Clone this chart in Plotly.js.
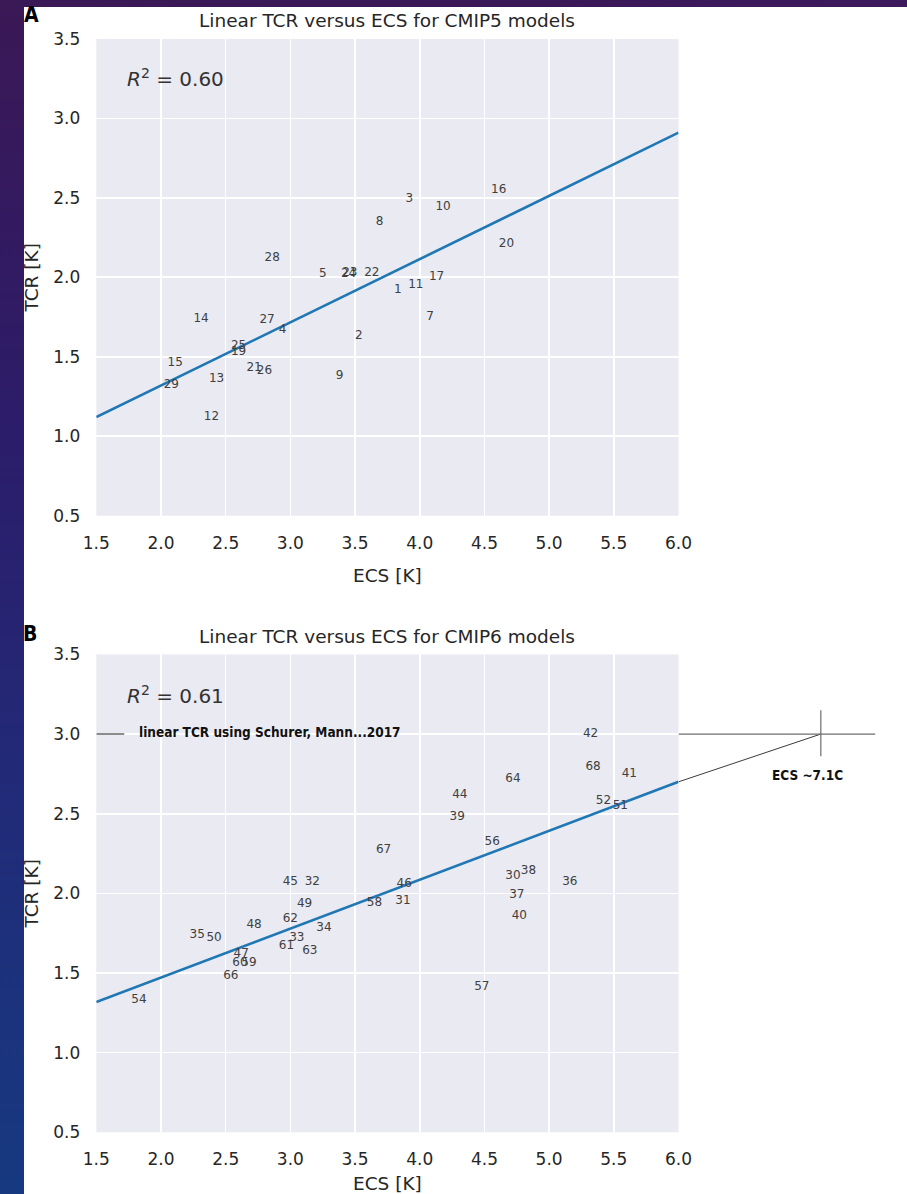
<!DOCTYPE html>
<html>
<head>
<meta charset="utf-8">
<script src="https://cdn.plot.ly/plotly-3.0.1.min.js"></script>
<style>
  html, body { margin: 0; padding: 0; width: 907px; height: 1194px; overflow: hidden; background: #ffffff; }
  #edge-left { position: absolute; left: 0; top: 0; width: 24px; height: 1194px;
    background: linear-gradient(to bottom, #3b1856 0%, #2c1c69 35%, #222a78 65%, #16397f 100%); }
  #edge-top { position: absolute; left: 0; top: 0; width: 907px; height: 7px;
    background: linear-gradient(to right, #3b1856 0%, #3a1858 60%, #3c1a5c 100%); }
  #chart { position: absolute; left: 0; top: 0; width: 907px; height: 1194px; }
</style>
</head>
<body>
<div id="edge-left"></div>
<div id="edge-top"></div>
<div id="chart"></div>
<script>
// ---- CMIP5 models: ECS and TCR per model number ----
const cmip5Ids = ['1','2','3','4','5','7','8','9','10','11','12','13','14','15','16','17','19','20','21','22','23','24','25','26','27','28','29'];
const cmip5Ecs = [3.83, 3.53, 3.92, 2.94, 3.25, 4.08, 3.69, 3.38, 4.18, 3.97, 2.39, 2.43, 2.31, 2.11, 4.61, 4.13, 2.60, 4.67, 2.72, 3.63, 3.46, 3.45, 2.60, 2.80, 2.82, 2.86, 2.08];
const cmip5Tcr = [1.92, 1.63, 2.49, 1.67, 2.02, 1.75, 2.35, 1.38, 2.44, 1.95, 1.12, 1.36, 1.74, 1.46, 2.55, 2.00, 1.53, 2.21, 1.43, 2.03, 2.03, 2.02, 1.57, 1.41, 1.73, 2.12, 1.32];
const cmip5FitEcs = [1.5, 6.0];
const cmip5FitTcr = [1.12, 2.91];
const cmip5R2 = '0.60';

// ---- CMIP6 models: ECS and TCR per model number ----
const cmip6Ids = ['30','31','32','33','34','35','36','37','38','39','40','41','42','44','45','46','47','48','49','50','51','52','54','56','57','58','59','60','61','62','63','64','66','67','68'];
const cmip6Ecs = [4.72, 3.87, 3.17, 3.05, 3.26, 2.28, 5.16, 4.75, 4.84, 4.29, 4.77, 5.62, 5.32, 4.31, 3.00, 3.88, 2.62, 2.72, 3.11, 2.41, 5.55, 5.42, 1.83, 4.56, 4.48, 3.65, 2.68, 2.61, 2.97, 3.00, 3.15, 4.72, 2.54, 3.72, 5.34];
const cmip6Tcr = [2.11, 1.95, 2.07, 1.72, 1.78, 1.74, 2.07, 1.99, 2.14, 2.48, 1.86, 2.75, 3.00, 2.62, 2.07, 2.06, 1.62, 1.80, 1.93, 1.72, 2.55, 2.58, 1.33, 2.32, 1.41, 1.94, 1.56, 1.56, 1.67, 1.84, 1.64, 2.72, 1.48, 2.27, 2.79];
const cmip6FitEcs = [1.5, 6.0];
const cmip6FitTcr = [1.318, 2.70];
const cmip6R2 = '0.61';

// ---- Reference level and the ECS it implies on the CMIP6 fit ----
const schurerTcr = 3.0;
const schurerKeyEcs = [1.5, 1.716];
const ecsEstimate = 7.1;
const crossEcs = [6.0, 7.52];
const crossTcr = [2.86, 3.15];
const schurerLabel = 'linear TCR using Schurer, Mann...2017';
const ecsLabel = 'ECS ~7.1C';

const tickVals = [1.5, 2.0, 2.5, 3.0, 3.5, 4.0, 4.5, 5.0, 5.5, 6.0];
const yTickVals = [0.5, 1.0, 1.5, 2.0, 2.5, 3.0, 3.5];

const W = 907, H = 1194;
const px = v => v / W;
const py = v => 1 - v / H;

const sans = 'DejaVu Sans, Verdana, sans-serif';
const narrowBold = 'Liberation Sans Narrow, Arial Narrow, DejaVu Sans Condensed, sans-serif';
const inkDark = '#262626';
const labelInk = '#404040';
const lineBlue = '#1f77b4';

const xDomain = [px(96.3), px(678.5)];
const yDomainA = [py(515.7), py(38.9)];
const yDomainB = [py(1132.3), py(654.4)];

function xAxis(anchor, standoff) {
  return {
    domain: xDomain, anchor: anchor, range: [1.5, 6.0],
    tickmode: 'array', tickvals: tickVals, ticktext: tickVals.map(v => v.toFixed(1)),
    showgrid: true, gridcolor: '#ffffff', gridwidth: 1.6,
    zeroline: false, showline: false, ticks: '',
    ticklabelstandoff: 15,
    tickfont: {family: sans, size: 17, color: inkDark},
    title: {text: 'ECS [K]', font: {family: sans, size: 18.5, color: inkDark}, standoff: standoff},
    fixedrange: true
  };
}
function yAxis(anchor, domain) {
  return {
    domain: domain, anchor: anchor, range: [0.5, 3.5],
    tickmode: 'array', tickvals: yTickVals, ticktext: yTickVals.map(v => v.toFixed(1)),
    showgrid: true, gridcolor: '#ffffff', gridwidth: 1.6,
    zeroline: false, showline: false, ticks: '',
    ticklabelstandoff: 15,
    tickfont: {family: sans, size: 17, color: inkDark},
    title: {text: 'TCR [K]', font: {family: sans, size: 18.5, color: inkDark}, standoff: 9},
    fixedrange: true
  };
}

const labelFont = {family: sans, size: 12, color: labelInk};

const traces = [
  // panel A
  {x: cmip5FitEcs, y: cmip5FitTcr, xaxis: 'x', yaxis: 'y', mode: 'lines',
   line: {color: lineBlue, width: 2.6}, hoverinfo: 'skip'},
  {x: cmip5Ecs, y: cmip5Tcr, text: cmip5Ids, xaxis: 'x', yaxis: 'y', mode: 'text',
   textposition: 'middle center', textfont: labelFont, hoverinfo: 'skip'},
  // panel B
  {x: schurerKeyEcs, y: [schurerTcr, schurerTcr], xaxis: 'x2', yaxis: 'y2', mode: 'lines',
   line: {color: '#8c8c8c', width: 2}, hoverinfo: 'skip'},
  {x: cmip6FitEcs, y: cmip6FitTcr, xaxis: 'x2', yaxis: 'y2', mode: 'lines',
   line: {color: lineBlue, width: 2.6}, hoverinfo: 'skip'},
  {x: cmip6Ecs, y: cmip6Tcr, text: cmip6Ids, xaxis: 'x2', yaxis: 'y2', mode: 'text',
   textposition: 'middle center', textfont: labelFont, hoverinfo: 'skip'},
  // fit extended past the axis to the reference TCR level
  {x: [cmip6FitEcs[1], ecsEstimate], y: [cmip6FitTcr[1], schurerTcr], xaxis: 'x3', yaxis: 'y2', mode: 'lines',
   line: {color: '#3a3a3a', width: 1}, hoverinfo: 'skip'},
  {x: crossEcs, y: [schurerTcr, schurerTcr], xaxis: 'x3', yaxis: 'y2', mode: 'lines',
   line: {color: '#6e6e6e', width: 1.2}, hoverinfo: 'skip'},
  {x: [ecsEstimate, ecsEstimate], y: crossTcr, xaxis: 'x3', yaxis: 'y2', mode: 'lines',
   line: {color: '#6e6e6e', width: 1.2}, hoverinfo: 'skip'}
];

const panelBg = '#eaeaf2';

const layout = {
  width: W, height: H,
  margin: {l: 0, r: 0, t: 0, b: 0, pad: 0},
  paper_bgcolor: 'rgba(0,0,0,0)',
  plot_bgcolor: 'rgba(0,0,0,0)',
  showlegend: false,
  hovermode: false,
  xaxis: xAxis('y', 17),
  yaxis: yAxis('x', yDomainA),
  xaxis2: xAxis('y2', 8),
  yaxis2: yAxis('x2', yDomainB),
  xaxis3: {domain: [px(678.5), 1], anchor: 'y2', range: [6.0, 6.0 + (W - 678.5) / 129.4],
           visible: false, showgrid: false, zeroline: false, fixedrange: true},
  shapes: [
    {type: 'rect', xref: 'x domain', yref: 'y domain', x0: 0, x1: 1, y0: 0, y1: 1,
     fillcolor: panelBg, line: {width: 0}, layer: 'below'},
    {type: 'rect', xref: 'x2 domain', yref: 'y2 domain', x0: 0, x1: 1, y0: 0, y1: 1,
     fillcolor: panelBg, line: {width: 0}, layer: 'below'}
  ],
  annotations: [
    {text: '<b>A</b>', xref: 'paper', yref: 'paper', x: px(31), y: py(15.5),
     xanchor: 'center', yanchor: 'middle', showarrow: false,
     font: {family: narrowBold, size: 21, color: '#000'}},
    {text: '<b>B</b>', xref: 'paper', yref: 'paper', x: px(30), y: py(634),
     xanchor: 'center', yanchor: 'middle', showarrow: false,
     font: {family: narrowBold, size: 21, color: '#000'}},
    {text: 'Linear TCR versus ECS for CMIP5 models', xref: 'x domain', yref: 'paper', x: 0.5, y: py(20),
     xanchor: 'center', yanchor: 'middle', showarrow: false,
     font: {family: sans, size: 18.5, color: inkDark}},
    {text: 'Linear TCR versus ECS for CMIP6 models', xref: 'x2 domain', yref: 'paper', x: 0.5, y: py(636),
     xanchor: 'center', yanchor: 'middle', showarrow: false,
     font: {family: sans, size: 18.5, color: inkDark}},
    {text: '<i>R</i><sup>2</sup> = ' + cmip5R2, xref: 'x', yref: 'y', x: 1.722, y: 3.252,
     xanchor: 'left', yanchor: 'middle', showarrow: false,
     font: {family: sans, size: 20, color: '#333'}},
    {text: '<i>R</i><sup>2</sup> = ' + cmip6R2, xref: 'x2', yref: 'y2', x: 1.722, y: 3.245,
     xanchor: 'left', yanchor: 'middle', showarrow: false,
     font: {family: sans, size: 20, color: '#333'}},
    {text: '<b>' + schurerLabel + '</b>', xref: 'x2', yref: 'y2', x: 1.817, y: schurerTcr + 0.01,
     xanchor: 'left', yanchor: 'middle', showarrow: false,
     font: {family: narrowBold, size: 13.5, color: '#111'}},
    {text: '<b>' + ecsLabel + '</b>', xref: 'x3', yref: 'y2', x: ecsEstimate - 0.1, y: 2.743,
     xanchor: 'center', yanchor: 'middle', showarrow: false,
     font: {family: narrowBold, size: 13.5, color: '#111'}}
  ]
};

Plotly.newPlot('chart', traces, layout, {staticPlot: true, displayModeBar: false});
</script>
</body>
</html>
